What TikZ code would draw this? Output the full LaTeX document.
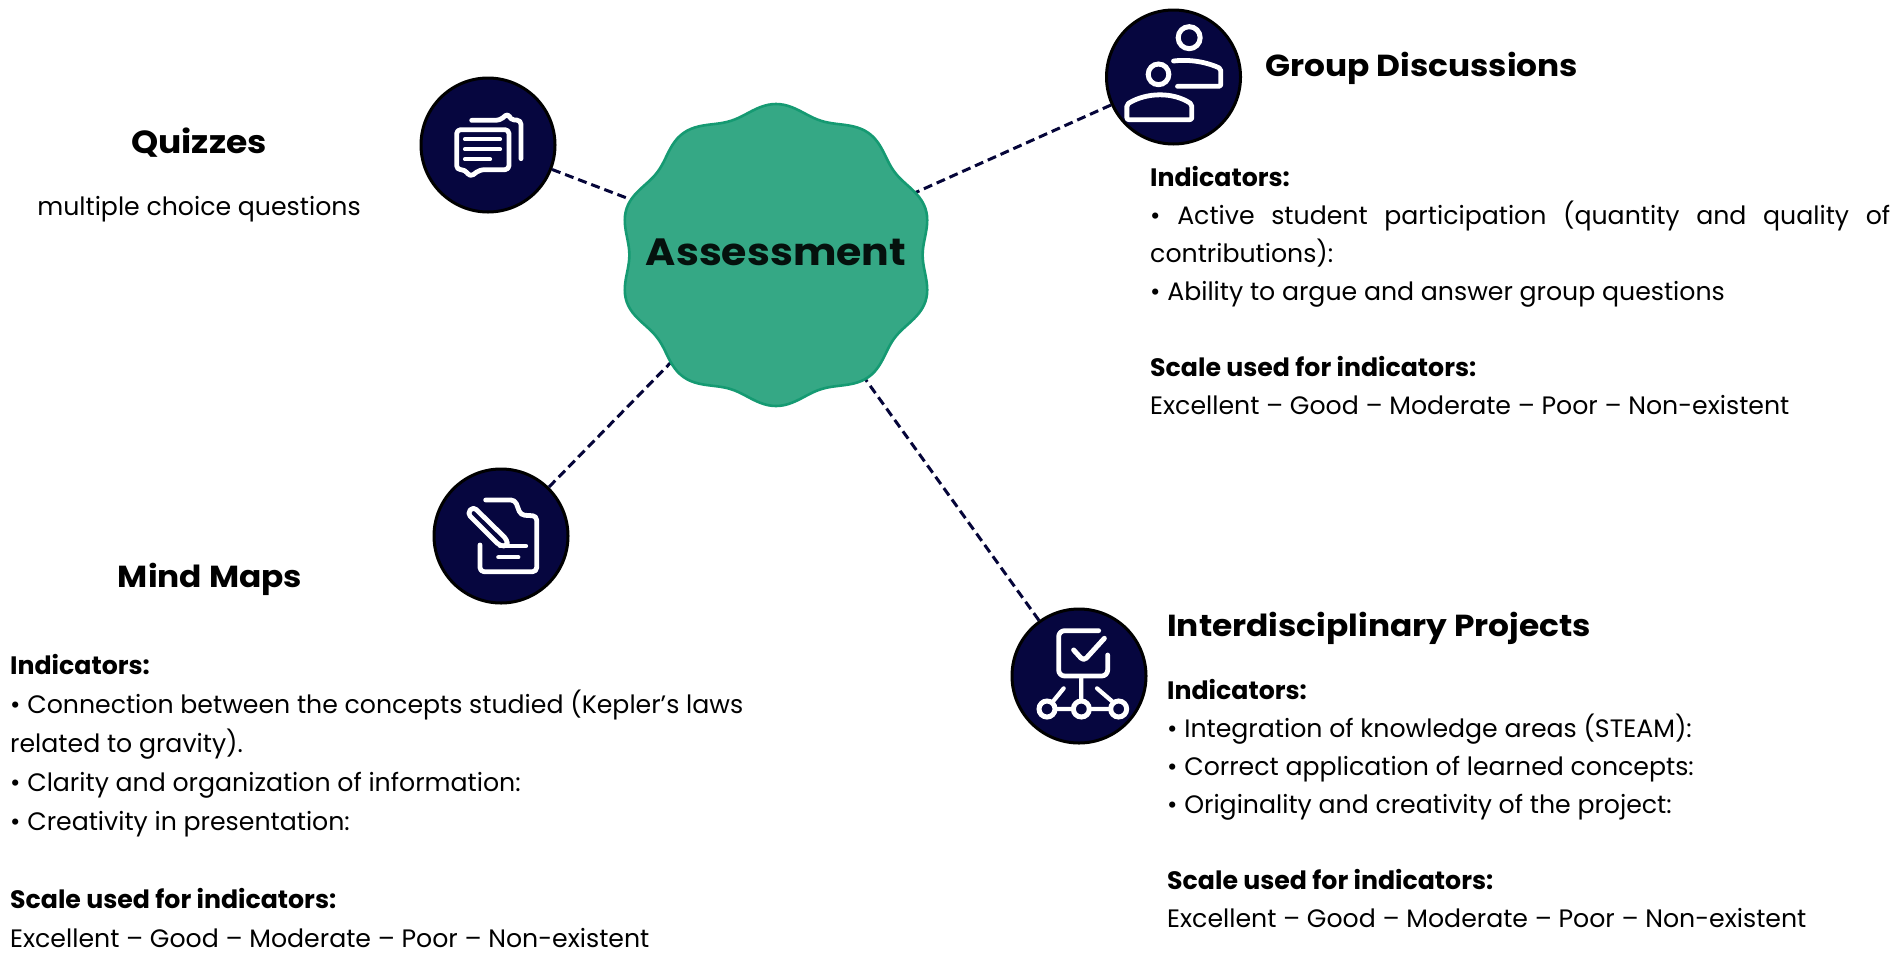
\documentclass[tikz,border=0pt]{standalone}
\usepackage{fontspec}
\setmainfont{Poppins}
\newfontfamily\headfont[FakeStretch=1.08]{Poppins}
\definecolor{navy}{HTML}{06063F}
\definecolor{blobfill}{HTML}{35A885}
\definecolor{blobedge}{HTML}{159A72}
\tikzset{
  hub/.style={circle,draw=black,line width=3pt,fill=navy,minimum size=134pt,inner sep=0pt,outer sep=1.5pt},
  centerhub/.style={circle,minimum size=280pt,inner sep=0pt,outer sep=0pt},
  centerlabel/.style={inner sep=0pt,font=\headfont\fontsize{38}{40}\selectfont\bfseries,text=black!90!blobfill},
  link/.style={draw=navy!90!black,line width=3pt,dash pattern=on 9pt off 5pt},
  ico/.style={draw=white,line width=4.8pt,line join=round,line cap=round,rounded corners=4pt},
  icothin/.style={draw=white,line width=4.2pt,line cap=round},
  head/.style={font=\headfont\fontsize{30.4}{34}\selectfont\bfseries,inner sep=0pt},
  body/.style={font=\fontsize{25.2}{38}\selectfont,inner sep=0pt,align=left},
}
\begin{document}
\begin{tikzpicture}[x=1pt,y=-1pt]
\useasboundingbox[fill=white] (0,0) rectangle (1902,959);
\node[centerhub] (assess) at (776,255) {};
\node[hub] (quiz) at (488,145) {};
\node[hub] (group) at (1173.5,77) {};
\node[hub] (mind) at (501,536) {};
\node[hub] (inter) at (1079,676) {};
\draw[link] (quiz) -- (assess);
\draw[link] (group) -- (assess);
\draw[link] (mind) -- (assess);
\draw[link] (inter) -- (assess);
\begin{scope}[shift={(776,255)},xscale=1.04]
\fill[blobfill,draw=blobedge,line width=2.6pt] plot[domain=0:360,samples=241,smooth] (\x:{146+5*cos(10*(\x-90))}) -- cycle;
\end{scope}
\node[centerlabel] (assesslabel) at (776,252) {Assessment};
% quiz icon
\begin{scope}[shift={(quiz.center)},x=.3333pt,y=-.3333pt,shift={(-234,-254)}]
\draw[ico] (140,208) -- (297,208) -- (297,328) -- (210,328) -- (180,350) -- (165,328) -- (140,328) -- cycle;
\draw[icothin] (165,237) -- (270,237) (165,267) -- (270,267) (165,297) -- (240,297);
\draw[ico] (185,180) -- (270,180) -- (295,158) -- (300,178) -- (333,180) -- (333,295);
\end{scope}
% group icon
\begin{scope}[shift={(group.center)},x=.3333pt,y=-.3333pt,shift={(-250,-230)}]
\draw[white,line width=5pt] (297,112) circle[radius=33];
\draw[white,line width=5pt] (205,222) circle[radius=31];
\draw[ico,rounded corners=2pt] (250,182) .. controls (310,175) and (360,190) .. (392,205) -- (392,258) -- (262,258);
\draw[ico,rounded corners=2pt] (110,312) .. controls (170,275) and (250,275) .. (305,312) -- (305,358) -- (110,358) -- cycle;
\end{scope}
% mind map icon
\begin{scope}[shift={(mind.center)},x=.3333pt,y=-.3333pt,shift={(-243,-228)}]
\draw[ico] (197,120) -- (285,120) -- (302,165) -- (350,168) -- (350,335) -- (180,335) -- (180,255);
\draw[ico] (142,160) -- (160,140) -- (262,240) -- (262,258) -- (240,258) -- cycle;
\draw[icothin] (240,258) -- (318,258) (235,292) -- (295,292);
\end{scope}
% projects icon
\begin{scope}[shift={(inter.center)},x=.3333pt,y=-.3333pt,shift={(-236,-228)}]
\draw[ico,rounded corners=6pt] (295,92) -- (175,92) -- (175,228) -- (322,228) -- (322,165);
\draw[ico,line width=5pt] (220,150) -- (250,183) -- (312,115);
\draw[white,line width=5pt] (140,327) circle[radius=24] (243,327) circle[radius=24] (355,327) circle[radius=24];
\draw[icothin] (164,327) -- (219,327) (267,327) -- (331,327) (243,235) -- (243,303) (190,265) -- (155,308) (290,265) -- (340,308);
\end{scope}
% texts
\node[head,anchor=center,font=\headfont\fontsize{32}{34}\selectfont\bfseries] (quizhead) at (199,143) {Quizzes};
\node[body,anchor=center] (quiztext) at (199,209) {multiple choice questions};
\node[head,anchor=west] (grouphead) at (1265,68) {Group Discussions};
\node[body,anchor=north west,text width=740pt,align=justify] (grouptext) at (1150,166) {\textbf{Indicators:}\\
• Active student participation (quantity and quality of\linebreak contributions):\\
• Ability to argue and answer group questions\\
\mbox{}\\
\textbf{Scale used for indicators:}\\
Excellent – Good – Moderate – Poor – Non-existent};
\node[head,anchor=center] (mindhead) at (210,579) {Mind Maps};
\node[body,anchor=north west,font=\fontsize{25.2}{39}\selectfont] (mindtext) at (10,654) {\textbf{Indicators:}\\
• Connection between the concepts studied (Kepler's laws\\
related to gravity).\\
• Clarity and organization of information:\\
• Creativity in presentation:\\
\mbox{}\\
\textbf{Scale used for indicators:}\\
Excellent – Good – Moderate – Poor – Non-existent};
\node[head,anchor=west] (interhead) at (1167,628) {Interdisciplinary Projects};
\node[body,anchor=north west] (intertext) at (1167,679) {\textbf{Indicators:}\\
• Integration of knowledge areas (STEAM):\\
• Correct application of learned concepts:\\
• Originality and creativity of the project:\\
\mbox{}\\
\textbf{Scale used for indicators:}\\
Excellent – Good – Moderate – Poor – Non-existent};
\end{tikzpicture}
\end{document}
